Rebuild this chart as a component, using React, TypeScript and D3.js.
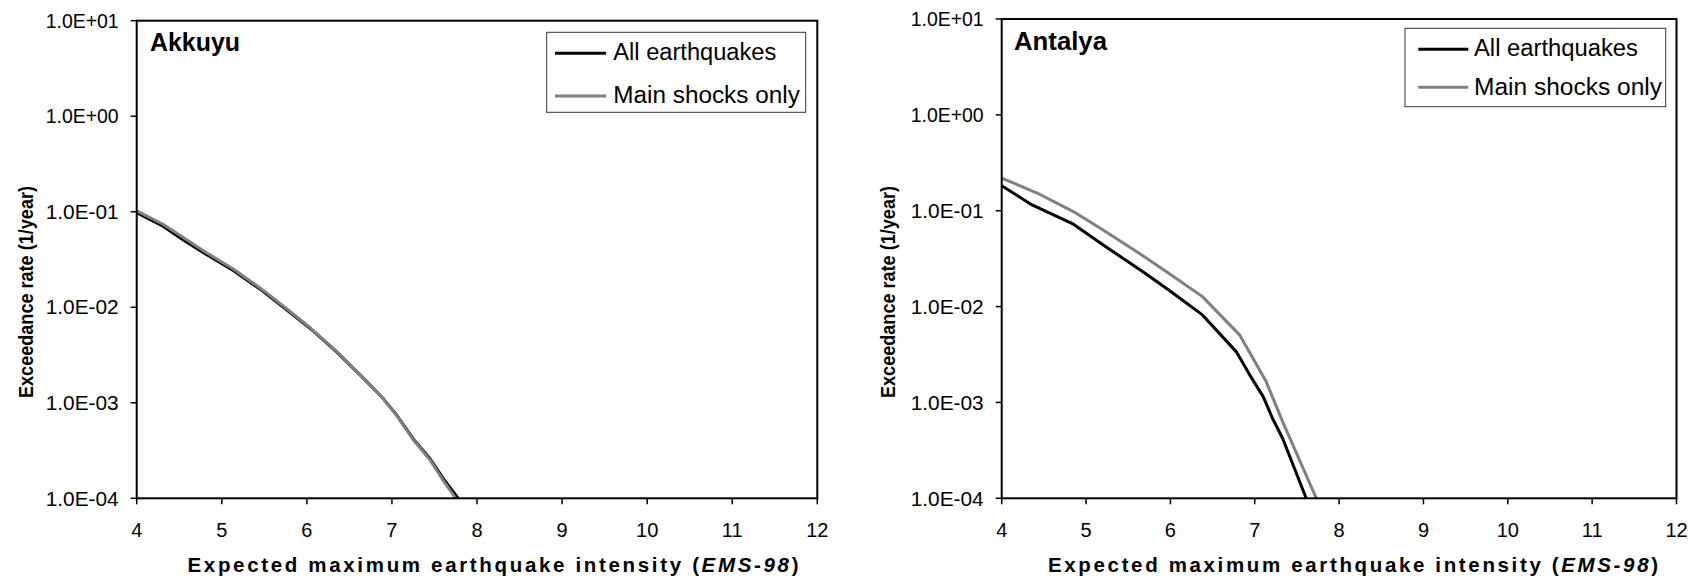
import React from "react";
import * as d3 from "d3";

const xTicks = [4, 5, 6, 7, 8, 9, 10, 11, 12];
const yTicks = [1e-4, 1e-3, 1e-2, 1e-1, 1, 10];
const yTickLabels = ["1.0E-04", "1.0E-03", "1.0E-02", "1.0E-01", "1.0E+00", "1.0E+01"];
const seriesNames = ["All earthquakes", "Main shocks only"];

const akkuyuAllX = [4.0, 4.31, 4.57, 4.82, 5.14, 5.49, 5.84, 6.04, 6.35, 6.67, 6.9, 7.06, 7.25, 7.45, 7.61, 7.78];
const akkuyuAll = [0.098, 0.0706, 0.049, 0.0356, 0.0241, 0.0146, 0.0083, 0.006, 0.00341, 0.00179, 0.0011, 0.000736, 0.000418, 0.000258, 0.000158, 0.0001];
const akkuyuMainX = [4.0, 4.31, 4.57, 4.82, 5.14, 5.49, 5.84, 6.04, 6.35, 6.67, 6.9, 7.06, 7.25, 7.45, 7.6, 7.75];
const akkuyuMain = [0.102, 0.074, 0.052, 0.0372, 0.025, 0.015, 0.0085, 0.0061, 0.00345, 0.0018, 0.0011, 0.00073, 0.00041, 0.00025, 0.000155, 0.0001];

const antalyaAllX = [4.0, 4.36, 4.85, 5.23, 5.67, 5.98, 6.38, 6.78, 6.94, 7.1, 7.21, 7.33, 7.61];
const antalyaAll = [0.182, 0.115, 0.0724, 0.0423, 0.0232, 0.0149, 0.00819, 0.00339, 0.00194, 0.00115, 0.000684, 0.000423, 0.0001];
const antalyaMainX = [4.0, 4.42, 4.85, 5.23, 5.63, 5.98, 6.38, 6.82, 7.135, 7.33, 7.73];
const antalyaMain = [0.219, 0.153, 0.098, 0.0607, 0.036, 0.0223, 0.0127, 0.00507, 0.00165, 0.00063, 0.0001];

const FONT = "'Liberation Sans', Arial, Helvetica, sans-serif";
const GRAY = "#808080";

type PanelProps = {
  title: string;
  x0: number; x1: number; yTop: number; yBot: number;
  allX: number[]; allY: number[]; mainX: number[]; mainY: number[];
  titleX: number; titleY: number; titleLen: number;
  leg: { x0: number; x1: number; y0: number; y1: number; lx0: number; lx1: number; r1: number; r2: number; tx: number; t1: number; t2: number; tw1: number; tw2: number };
  yLab: { x: number; y: number; len: number };
  xLab: { x: number; y: number; len: number };
  clipId: string;
};

function Panel(p: PanelProps) {
  const x = d3.scaleLinear().domain([4, 12]).range([p.x0, p.x1]);
  const y = d3.scaleLog().domain([1e-4, 10]).range([p.yBot, p.yTop]);
  const line = d3
    .line<[number, number]>()
    .x((d) => x(d[0]))
    .y((d) => y(d[1]));
  const allPts = p.allX.map((v, i) => [v, p.allY[i]] as [number, number]);
  const mainPts = p.mainX.map((v, i) => [v, p.mainY[i]] as [number, number]);
  return (
    <g>
      <defs>
        <clipPath id={p.clipId}>
          <rect x={p.x0} y={p.yTop} width={p.x1 - p.x0} height={p.yBot - p.yTop} />
        </clipPath>
      </defs>
      <g clipPath={`url(#${p.clipId})`}>
        <path d={line(allPts) || ""} fill="none" stroke="#000" strokeWidth={3} strokeLinejoin="round" />
        <path d={line(mainPts) || ""} fill="none" stroke={GRAY} strokeWidth={3} strokeLinejoin="round" />
      </g>
      <rect x={p.x0} y={p.yTop} width={p.x1 - p.x0} height={p.yBot - p.yTop} fill="none" stroke="#000" strokeWidth={2} />
      {yTicks.map((t, i) => (
        <g key={"y" + i}>
          <line x1={p.x0 - 6} x2={p.x0} y1={y(t)} y2={y(t)} stroke="#000" strokeWidth={1.5} />
          <text x={p.x0 - 18} y={y(t)} dy="0.36em" textAnchor="end" fontFamily={FONT} fontSize={20} fill="#000" textLength={73} lengthAdjust="spacingAndGlyphs">
            {yTickLabels[i]}
          </text>
        </g>
      ))}
      {xTicks.map((t) => (
        <g key={"x" + t}>
          <line x1={x(t)} x2={x(t)} y1={p.yBot} y2={p.yBot + 6} stroke="#000" strokeWidth={1.5} />
          <text x={x(t)} y={p.yBot + 38.5} textAnchor="middle" fontFamily={FONT} fontSize={20} fill="#000">
            {t}
          </text>
        </g>
      ))}
      <text x={p.titleX} y={p.titleY} fontFamily={FONT} fontSize={25} fontWeight="bold" fill="#000" textLength={p.titleLen} lengthAdjust="spacingAndGlyphs">
        {p.title}
      </text>
      <rect x={p.leg.x0} y={p.leg.y0} width={p.leg.x1 - p.leg.x0} height={p.leg.y1 - p.leg.y0} fill="#fff" stroke="#333" strokeWidth={1} />
      <line x1={p.leg.lx0} x2={p.leg.lx1} y1={p.leg.r1} y2={p.leg.r1} stroke="#000" strokeWidth={3} />
      <line x1={p.leg.lx0} x2={p.leg.lx1} y1={p.leg.r2} y2={p.leg.r2} stroke={GRAY} strokeWidth={3} />
      <text x={p.leg.tx} y={p.leg.t1} fontFamily={FONT} fontSize={23} fill="#000" textLength={p.leg.tw1} lengthAdjust="spacingAndGlyphs">
        {seriesNames[0]}
      </text>
      <text x={p.leg.tx} y={p.leg.t2} fontFamily={FONT} fontSize={23} fill="#000" textLength={p.leg.tw2} lengthAdjust="spacingAndGlyphs">
        {seriesNames[1]}
      </text>
      <text
        transform={`translate(${p.yLab.x},${p.yLab.y}) rotate(-90)`}
        textAnchor="middle"
        fontFamily={FONT}
        fontSize={21}
        fontWeight="bold"
        fill="#000"
        textLength={p.yLab.len}
        lengthAdjust="spacingAndGlyphs"
      >
        Exceedance rate (1/year)
      </text>
      <text
        x={p.xLab.x}
        y={p.xLab.y}
        textAnchor="middle"
        fontFamily={FONT}
        fontSize={20.5}
        fontWeight="bold"
        fill="#000"
        textLength={p.xLab.len}
        lengthAdjust="spacing"
      >
        Expected maximum earthquake intensity (<tspan fontStyle="italic">EMS-98</tspan>)
      </text>
    </g>
  );
}

export default function App() {
  return (
    <svg
      width={1699}
      height={582}
      style={{ position: "absolute", left: 0, top: 0, background: "#fff" }}
    >
      <rect width={1699} height={582} fill="#fff" />
      <Panel
        title="Akkuyu"
        x0={136.7}
        x1={817.3}
        yTop={20.7}
        yBot={498.3}
        allX={akkuyuAllX}
        allY={akkuyuAll}
        mainX={akkuyuMainX}
        mainY={akkuyuMain}
        titleX={150}
        titleY={50.7}
        titleLen={90}
        leg={{ x0: 546.7, x1: 805.7, y0: 32.3, y1: 112.3, lx0: 555, lx1: 606, r1: 53.3, r2: 96, tx: 613.3, t1: 60, t2: 102.5, tw1: 163, tw2: 186.5 }}
        yLab={{ x: 33, y: 292, len: 212 }}
        xLab={{ x: 493, y: 571.7, len: 611 }}
        clipId="clipL"
      />
      <Panel
        title="Antalya"
        x0={1001.7}
        x1={1676.5}
        yTop={19}
        yBot={498.3}
        allX={antalyaAllX}
        allY={antalyaAll}
        mainX={antalyaMainX}
        mainY={antalyaMain}
        titleX={1014}
        titleY={49.5}
        titleLen={93}
        leg={{ x0: 1405, x1: 1665.7, y0: 28.3, y1: 106.7, lx0: 1418.3, lx1: 1468.3, r1: 49.3, r2: 87.3, tx: 1474, t1: 56, t2: 94.5, tw1: 164, tw2: 188 }}
        yLab={{ x: 895, y: 292, len: 212 }}
        xLab={{ x: 1353, y: 571.7, len: 610 }}
        clipId="clipR"
      />
    </svg>
  );
}
